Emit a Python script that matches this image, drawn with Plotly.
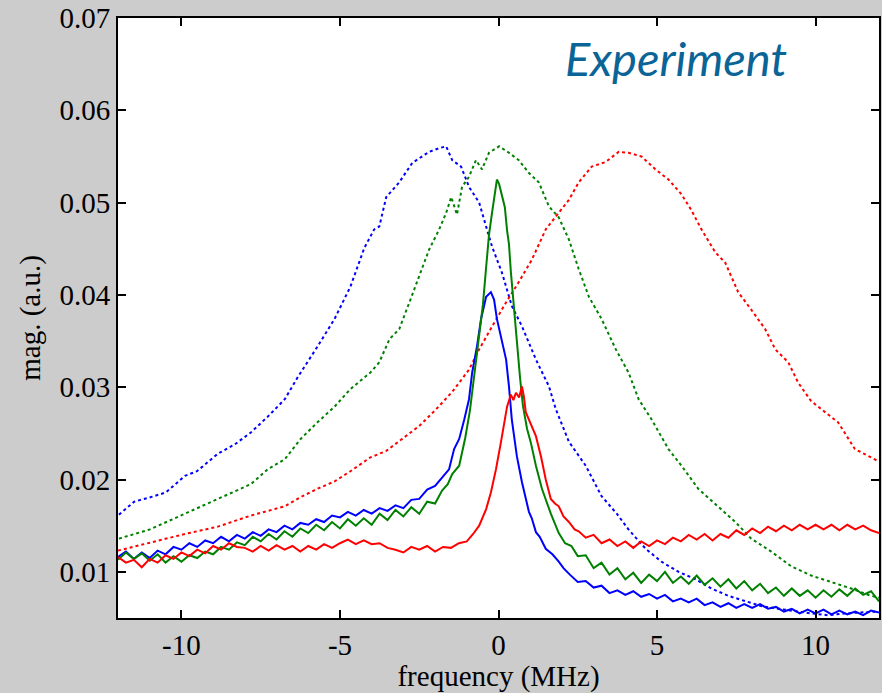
import plotly.graph_objects as go

# ---- data (frequency in MHz, magnitude in a.u.) ----
blue_dot_x = [-11.97, -11.49, -10.96, -10.49, -9.89, -9.51, -8.85, -8.32, -7.81, -7.28, -6.74, -6.33, -5.71, -5.17,
              -4.67, -4.45, -4.23, -3.92, -3.76, -3.54, -3.13, -2.72, -2.19, -1.87, -1.65, -1.46, -1.18, -0.93, -0.61,
              -0.39, -0.20, 0.11, 0.42, 0.74, 1.18, 1.59, 1.81, 2.22, 2.75, 3.25, 3.73, 4.10, 4.64, 5.14, 5.68, 6.21,
              6.71, 7.25, 7.78, 8.28, 8.82, 9.36, 9.86, 10.39, 10.93, 11.97]
blue_dot_y = [0.0162, 0.0176, 0.0181, 0.0186, 0.0204, 0.0209, 0.0228, 0.0238, 0.0251, 0.0268, 0.0287, 0.0311, 0.0344,
              0.0374, 0.0409, 0.0431, 0.0451, 0.0471, 0.0474, 0.0506, 0.0522, 0.0543, 0.0555, 0.0559, 0.0561, 0.0546,
              0.0539, 0.0517, 0.0500, 0.0474, 0.0452, 0.0424, 0.0388, 0.0366, 0.0330, 0.0301, 0.0276, 0.0241, 0.0215,
              0.0182, 0.0163, 0.0146, 0.0125, 0.0111, 0.0100, 0.0092, 0.0082, 0.0074, 0.0068, 0.0063, 0.0060, 0.0057,
              0.0055, 0.0053, 0.0055, 0.0057]

green_dot_x = [-11.97, -10.99, -9.89, -8.85, -7.81, -7.28, -6.74, -6.24, -5.71, -5.17, -4.67, -4.04, -3.76, -3.44,
               -3.13, -2.81, -2.50, -2.19, -1.87, -1.65, -1.49, -1.31, -1.15, -0.93, -0.71, -0.52, -0.30, 0.02, 0.33,
               0.64, 0.96, 1.27, 1.59, 1.90, 2.22, 2.53, 2.85, 3.25, 3.70, 4.10, 4.42, 4.83, 5.36, 5.77, 6.30, 6.93,
               7.47, 7.97, 8.60, 9.23, 9.86, 10.49, 11.12, 11.75, 12.0]
green_dot_y = [0.0136, 0.0146, 0.0163, 0.0179, 0.0195, 0.0211, 0.0222, 0.0244, 0.0262, 0.0279, 0.0298, 0.0316, 0.0327,
               0.0352, 0.0363, 0.0392, 0.0420, 0.0449, 0.0471, 0.0489, 0.0506, 0.0487, 0.0517, 0.0528, 0.0546, 0.0536,
               0.0554, 0.0561, 0.0554, 0.0546, 0.0532, 0.0522, 0.0496, 0.0484, 0.0460, 0.0428, 0.0398, 0.0374, 0.0341,
               0.0316, 0.0287, 0.0265, 0.0233, 0.0215, 0.0190, 0.0171, 0.0154, 0.0136, 0.0122, 0.0106, 0.0096, 0.0089,
               0.0082, 0.0074, 0.0072]

red_dot_x = [-12.0, -10.96, -9.89, -8.85, -7.81, -6.74, -6.24, -5.71, -5.17, -4.67, -4.04, -3.54, -3.03, -2.50, -1.97,
             -1.46, -0.93, -0.61, -0.20, 0.24, 0.64, 1.05, 1.49, 1.90, 2.22, 2.53, 2.94, 3.38, 3.79, 4.10, 4.51, 4.95,
             5.36, 5.77, 6.08, 6.40, 6.84, 7.15, 7.56, 7.97, 8.41, 8.73, 9.14, 9.45, 9.86, 10.30, 10.71, 11.24, 11.97]
red_dot_y = [0.0123, 0.0132, 0.0141, 0.0149, 0.0161, 0.0171, 0.0181, 0.0190, 0.0198, 0.0209, 0.0224, 0.0231, 0.0244,
             0.0258, 0.0276, 0.0295, 0.0319, 0.0341, 0.0366, 0.0392, 0.0414, 0.0438, 0.0471, 0.0489, 0.0503, 0.0522,
             0.0539, 0.0544, 0.0555, 0.0554, 0.0550, 0.0536, 0.0525, 0.0509, 0.0492, 0.0471, 0.0446, 0.0435, 0.0403,
             0.0384, 0.0363, 0.0341, 0.0327, 0.0305, 0.0285, 0.0273, 0.0262, 0.0233, 0.0220]

blue_sol_x = [-12.0, -11.75, -11.5, -11.25, -11.0, -10.75, -10.5, -10.25, -10.0, -9.75, -9.5, -9.25, -9.0, -8.75,
              -8.5, -8.25, -8.0, -7.75, -7.5, -7.25, -7.0, -6.75, -6.5, -6.25, -6.0, -5.75, -5.5, -5.25, -5.0, -4.75,
              -4.5, -4.25, -4.0, -3.75, -3.5, -3.25, -3.0, -2.75, -2.5, -2.25, -2.0, -1.75, -1.56, -1.40, -1.24,
              -1.08, -0.93, -0.83, -0.68, -0.55, -0.39, -0.24, -0.14, -0.05, 0.08, 0.24, 0.33, 0.42, 0.58, 0.74,
              0.96, 1.05, 1.18, 1.30, 1.49, 1.70, 1.90, 2.05, 2.25, 2.5, 2.75, 3.0, 3.25, 3.5, 3.75, 4.0, 4.25, 4.5,
              4.75, 5.0, 5.25, 5.5, 5.75, 6.0, 6.25, 6.5, 6.75, 7.0, 7.25, 7.5, 7.75, 8.0, 8.25, 8.5, 8.75, 9.0,
              9.25, 9.5, 9.75, 10.0, 10.25, 10.5, 10.75, 11.0, 11.25, 11.5, 11.75, 12.0]
blue_sol_y = [0.0116, 0.0122, 0.0114, 0.0121, 0.0115, 0.0123, 0.0119, 0.0127, 0.0124, 0.0131, 0.0127, 0.0134,
              0.0131, 0.0138, 0.0133, 0.0140, 0.0136, 0.0143, 0.0139, 0.0146, 0.0143, 0.0150, 0.0146, 0.0153, 0.0151,
              0.0157, 0.0154, 0.0161, 0.0159, 0.0165, 0.0161, 0.0167, 0.0163, 0.0169, 0.0166, 0.0172, 0.0169, 0.0178,
              0.0179, 0.0189, 0.0193, 0.0203, 0.0211, 0.0233, 0.0244, 0.0265, 0.0287, 0.0316, 0.0344, 0.0374, 0.0398,
              0.0403, 0.0395, 0.0374, 0.0355, 0.0330, 0.0301, 0.0265, 0.0225, 0.0197, 0.0165, 0.0158, 0.0143, 0.0138,
              0.0125, 0.0119, 0.0111, 0.0104, 0.0097, 0.0089, 0.0090, 0.0083, 0.0085, 0.0077, 0.0080, 0.0075, 0.0079,
              0.0073, 0.0076, 0.0071, 0.0075, 0.0068, 0.0071, 0.0067, 0.0071, 0.0064, 0.0067, 0.0062, 0.0066, 0.0061,
              0.0065, 0.0061, 0.0065, 0.0060, 0.0062, 0.0057, 0.0060, 0.0055, 0.0059, 0.0055, 0.0059, 0.0054, 0.0058,
              0.0054, 0.0057, 0.0053, 0.0058, 0.0056]

green_sol_x = [-12.0, -11.75, -11.5, -11.25, -11.0, -10.75, -10.5, -10.25, -10.0, -9.75, -9.5, -9.25, -9.0, -8.75,
               -8.5, -8.25, -8.0, -7.75, -7.5, -7.25, -7.0, -6.75, -6.5, -6.25, -6.0, -5.75, -5.5, -5.25, -5.0,
               -4.75, -4.5, -4.25, -4.0, -3.75, -3.5, -3.25, -3.0, -2.75, -2.5, -2.25, -2.0, -1.78, -1.60, -1.46,
               -1.24, -1.05, -0.90, -0.74, -0.61, -0.49, -0.39, -0.30, -0.20, -0.11, -0.05, 0.02, 0.11, 0.20, 0.27,
               0.33, 0.39, 0.49, 0.58, 0.68, 0.77, 0.90, 1.02, 1.18, 1.37, 1.65, 1.90, 2.1, 2.3, 2.5, 2.75, 3.0,
               3.25, 3.5, 3.75, 4.0, 4.25, 4.5, 4.75, 5.0, 5.25, 5.5, 5.75, 6.0, 6.25, 6.5, 6.75, 7.0, 7.25, 7.5,
               7.75, 8.0, 8.25, 8.5, 8.75, 9.0, 9.25, 9.5, 9.75, 10.0, 10.25, 10.5, 10.75, 11.0, 11.25, 11.5, 11.75,
               12.0]
green_sol_y = [0.0113, 0.0121, 0.0114, 0.0120, 0.0112, 0.0119, 0.0110, 0.0117, 0.0111, 0.0118, 0.0115, 0.0122,
               0.0119, 0.0127, 0.0124, 0.0132, 0.0129, 0.0138, 0.0133, 0.0141, 0.0135, 0.0144, 0.0138, 0.0147, 0.0142,
               0.0151, 0.0145, 0.0154, 0.0147, 0.0157, 0.0150, 0.0158, 0.0151, 0.0163, 0.0156, 0.0167, 0.0160, 0.0170,
               0.0163, 0.0176, 0.0174, 0.0188, 0.0195, 0.0206, 0.0215, 0.0245, 0.0275, 0.0320, 0.0350, 0.0390, 0.0430,
               0.0465, 0.0490, 0.0510, 0.0525, 0.0520, 0.0508, 0.0495, 0.0470, 0.0455, 0.0425, 0.0385, 0.0345, 0.0310,
               0.0280, 0.0255, 0.0240, 0.0215, 0.0190, 0.0163, 0.0142, 0.0131, 0.0128, 0.0117, 0.0118, 0.0104, 0.0110,
               0.0097, 0.0104, 0.0092, 0.0099, 0.0088, 0.0097, 0.0090, 0.0100, 0.0088, 0.0095, 0.0087, 0.0096, 0.0086,
               0.0093, 0.0084, 0.0092, 0.0082, 0.0090, 0.0080, 0.0087, 0.0077, 0.0083, 0.0074, 0.0082, 0.0074, 0.0080,
               0.0072, 0.0080, 0.0073, 0.0081, 0.0074, 0.0082, 0.0075, 0.0079, 0.0068]

red_sol_x = [-12.0, -11.75, -11.5, -11.25, -11.0, -10.75, -10.5, -10.25, -10.0, -9.75, -9.5, -9.25, -9.0, -8.75, -8.5,
             -8.25, -8.0, -7.75, -7.5, -7.25, -7.0, -6.75, -6.5, -6.25, -6.0, -5.75, -5.5, -5.25, -5.0, -4.75, -4.5,
             -4.25, -4.0, -3.75, -3.5, -3.25, -3.0, -2.75, -2.5, -2.25, -2.0, -1.75, -1.5, -1.25, -1.0, -0.80, -0.61,
             -0.39, -0.24, -0.08, 0.08, 0.17, 0.27, 0.39, 0.47, 0.55, 0.65, 0.74, 0.80, 0.86, 0.95, 1.05, 1.18, 1.34,
             1.49, 1.65, 1.78, 1.90, 2.05, 2.22, 2.40, 2.53, 2.75, 3.0, 3.25, 3.5, 3.75, 4.0, 4.25, 4.5, 4.75, 5.0,
             5.25, 5.5, 5.75, 6.0, 6.25, 6.5, 6.75, 7.0, 7.25, 7.5, 7.75, 8.0, 8.25, 8.5, 8.75, 9.0, 9.25, 9.5, 9.75,
             10.0, 10.25, 10.5, 10.75, 11.0, 11.25, 11.5, 11.75, 12.0]
red_sol_y = [0.0116, 0.0110, 0.0113, 0.0105, 0.0114, 0.0110, 0.0118, 0.0114, 0.0121, 0.0117, 0.0124, 0.0120, 0.0128,
             0.0124, 0.0131, 0.0127, 0.0126, 0.0122, 0.0128, 0.0123, 0.0129, 0.0124, 0.0128, 0.0122, 0.0128, 0.0124,
             0.0130, 0.0126, 0.0131, 0.0135, 0.0130, 0.0134, 0.0130, 0.0131, 0.0126, 0.0124, 0.0121, 0.0127, 0.0124,
             0.0128, 0.0122, 0.0127, 0.0126, 0.0131, 0.0133, 0.0141, 0.0150, 0.0168, 0.0186, 0.0211, 0.0241, 0.0258,
             0.0279, 0.0292, 0.0286, 0.0294, 0.0289, 0.0301, 0.0290, 0.0273, 0.0266, 0.0258, 0.0247, 0.0225, 0.0200,
             0.0179, 0.0174, 0.0171, 0.0160, 0.0154, 0.0146, 0.0144, 0.0137, 0.0140, 0.0131, 0.0135, 0.0128, 0.0133,
             0.0126, 0.0133, 0.0128, 0.0134, 0.0130, 0.0137, 0.0133, 0.0140, 0.0135, 0.0141, 0.0134, 0.0141, 0.0137,
             0.0145, 0.0140, 0.0147, 0.0142, 0.0149, 0.0144, 0.0150, 0.0145, 0.0151, 0.0146, 0.0151, 0.0146, 0.0151,
             0.0145, 0.0151, 0.0146, 0.0150, 0.0145, 0.0142]

x_ticks = [-10, -5, 0, 5, 10]
y_ticks = [0.01, 0.02, 0.03, 0.04, 0.05, 0.06, 0.07]
y_tick_text = ["0.01", "0.02", "0.03", "0.04", "0.05", "0.06", "0.07"]

BLUE, GREEN, RED = "#0000ff", "#008000", "#ff0000"

fig = go.Figure()
series = [
    (blue_dot_x, blue_dot_y, BLUE, "dot"),
    (green_dot_x, green_dot_y, GREEN, "dot"),
    (red_dot_x, red_dot_y, RED, "dot"),
    (blue_sol_x, blue_sol_y, BLUE, "solid"),
    (green_sol_x, green_sol_y, GREEN, "solid"),
    (red_sol_x, red_sol_y, RED, "solid"),
]
for xs, ys, col, dash in series:
    fig.add_trace(go.Scatter(x=xs, y=ys, mode="lines",
                             line=dict(color=col, width=2, dash=dash),
                             showlegend=False, hoverinfo="skip"))

serif = "Liberation Serif, Times New Roman, serif"
axis_common = dict(showline=True, linecolor="black", linewidth=2, mirror="ticks",
                   ticks="inside", ticklen=8, tickwidth=2, tickcolor="black",
                   showgrid=False, zeroline=False,
                   tickfont=dict(family=serif, size=29, color="black"))

fig.update_xaxes(range=[-12, 12], tickvals=x_ticks, ticktext=[str(v) for v in x_ticks],
                 title=dict(text="frequency (MHz)", font=dict(family=serif, size=29, color="black"), standoff=4),
                 **axis_common)
fig.update_yaxes(range=[0.005, 0.07], tickvals=y_ticks, ticktext=y_tick_text,
                 title=dict(text="mag. (a.u.)", font=dict(family=serif, size=29, color="black"), standoff=10),
                 **axis_common)

fig.add_annotation(text="<i>Experiment</i>", xref="paper", yref="paper", x=0.585, y=0.933,
                   xanchor="left", yanchor="middle", showarrow=False,
                   font=dict(family="Lato, Noto Sans, sans-serif", size=47, color="#0a6496"))

fig.update_layout(width=882, height=693, margin=dict(l=118, r=1, t=18, b=75),
                  paper_bgcolor="#cccccc", plot_bgcolor="white")

fig.write_html("out.html")
